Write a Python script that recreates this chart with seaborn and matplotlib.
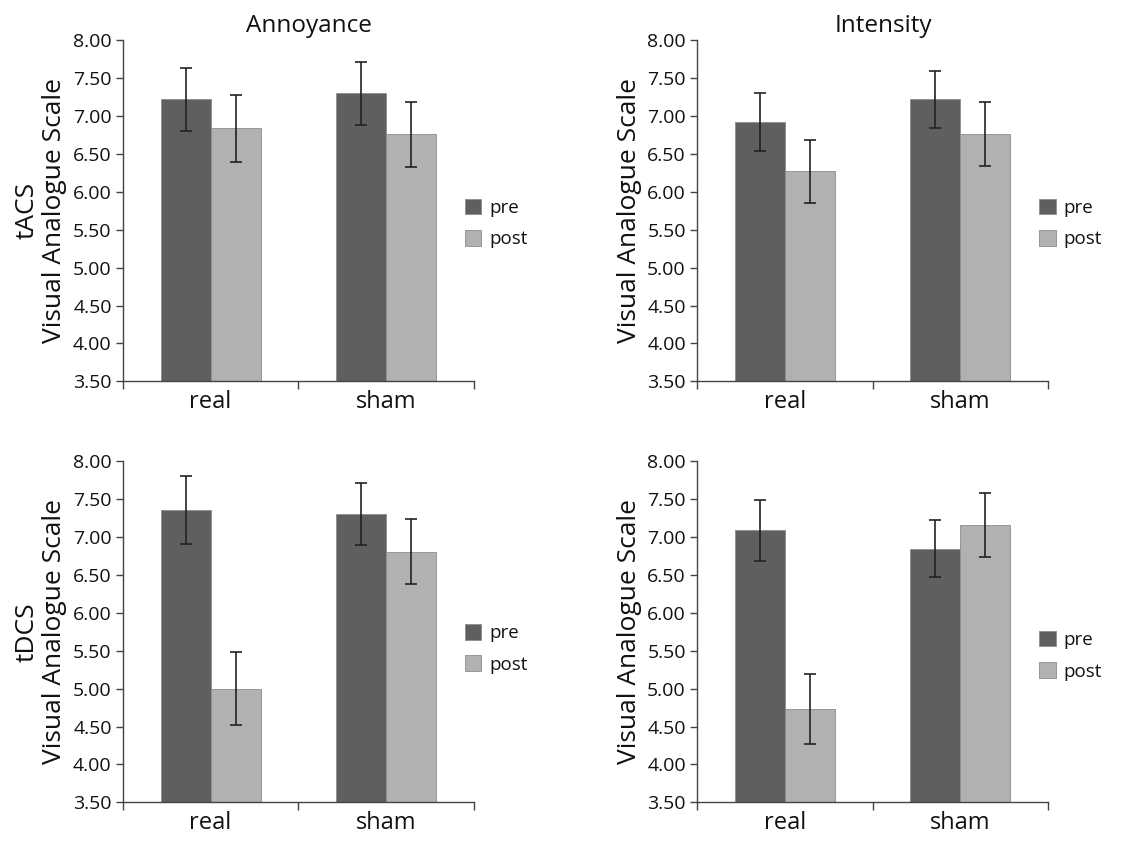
import numpy as np
import pandas as pd
import seaborn as sns
import matplotlib.pyplot as plt
from matplotlib.patches import Patch

# valores (média e erro)
conditions = ['real', 'sham']
phases = ['pre', 'post']

tacs_annoy = [7.22, 6.84, 7.30, 6.76]   # real pre, real post, sham pre, sham post
tacs_annoy_err = [0.42, 0.44, 0.42, 0.43]
tacs_int = [6.92, 6.27, 7.22, 6.76]
tacs_int_err = [0.38, 0.42, 0.38, 0.42]
tdcs_annoy = [7.36, 5.00, 7.31, 6.81]
tdcs_annoy_err = [0.45, 0.48, 0.41, 0.43]
tdcs_int = [7.09, 4.73, 6.85, 7.16]
tdcs_int_err = [0.40, 0.46, 0.38, 0.42]

yticks = [3.5, 4.0, 4.5, 5.0, 5.5, 6.0, 6.5, 7.0, 7.5, 8.0]

sns.set_style('white')
plt.rcParams['font.family'] = ['Open Sans', 'DejaVu Sans']
plt.rcParams['text.color'] = '#111111'
plt.rcParams['xtick.color'] = '#444444'
plt.rcParams['ytick.color'] = '#444444'
plt.rcParams['xtick.labelcolor'] = '#111111'
plt.rcParams['ytick.labelcolor'] = '#111111'
plt.rcParams['axes.labelcolor'] = '#111111'

cores = {'pre': '#5f5f5f', 'post': '#b1b1b1'}

fig, axes = plt.subplots(2, 2, figsize=(11.48, 8.41), dpi=100)
plt.subplots_adjust(left=0.107, right=0.913, bottom=0.046, top=0.952,
                     wspace=0.635, hspace=0.235)

paineis = [
    (axes[0, 0], tacs_annoy, tacs_annoy_err, 'Annoyance', 'tACS\nVisual Analogue Scale', 0.463),
    (axes[0, 1], tacs_int, tacs_int_err, 'Intensity', 'Visual Analogue Scale', 0.463),
    (axes[1, 0], tdcs_annoy, tdcs_annoy_err, '', 'tDCS\nVisual Analogue Scale', 0.45),
    (axes[1, 1], tdcs_int, tdcs_int_err, '', 'Visual Analogue Scale', 0.43),
]

for ax, vals, errs, titulo, ylab, leg_y in paineis:
    df = pd.DataFrame({
        'cond': [c for c in conditions for _ in phases],
        'fase': [p for _ in conditions for p in phases],
        'valor': vals,
        'erro': errs,
    })
    sns.barplot(data=df, x='cond', y='valor', hue='fase', order=conditions,
                hue_order=phases, palette=cores, width=0.57, errorbar=None,
                edgecolor='#8c8c8c', linewidth=0.6, ax=ax, legend=False)

    # barras de erro nas posições das barras
    for cont, fase in zip(ax.containers, phases):
        sub = df[df['fase'] == fase].set_index('cond').loc[conditions]
        xs = [b.get_x() + b.get_width() / 2 for b in cont]
        ax.errorbar(xs, sub['valor'], yerr=sub['erro'], fmt='none',
                    ecolor='#222222', elinewidth=1.2, capsize=4, capthick=1.2)

    ax.set_ylim(3.5, 8.0)
    ax.set_xlim(-0.5, 1.5)
    ax.set_yticks(yticks)
    ax.set_yticklabels([f'{v:.2f}' for v in yticks], fontsize=14)
    ax.set_xticks([0, 1])
    ax.set_xticklabels(conditions, fontsize=17)
    ax.set_xticks([-0.5, 0.5, 1.5], minor=True)
    ax.tick_params(axis='x', which='major', bottom=False, length=0, pad=6)
    ax.tick_params(axis='x', which='minor', bottom=True, length=6, width=1, direction='out')
    ax.tick_params(axis='y', left=True, length=5, width=1, direction='out', pad=3)
    ax.set_xlabel('')
    ax.set_ylabel(ylab, fontsize=19, linespacing=1.15)
    if titulo:
        ax.set_title(titulo, fontsize=17.5, pad=6, x=0.53)

    sns.despine(ax=ax)
    for s in ['left', 'bottom']:
        ax.spines[s].set_color('#444444')
        ax.spines[s].set_linewidth(1.0)

    handles = [Patch(facecolor=cores[p], edgecolor='#8c8c8c', linewidth=0.6) for p in phases]
    ax.legend(handles, phases, loc='center left', bbox_to_anchor=(0.925, leg_y),
              frameon=False, fontsize=13.5, handlelength=0.9, handleheight=0.9,
              handletextpad=0.4, labelspacing=0.7)

plt.savefig('out.png', dpi=100)
